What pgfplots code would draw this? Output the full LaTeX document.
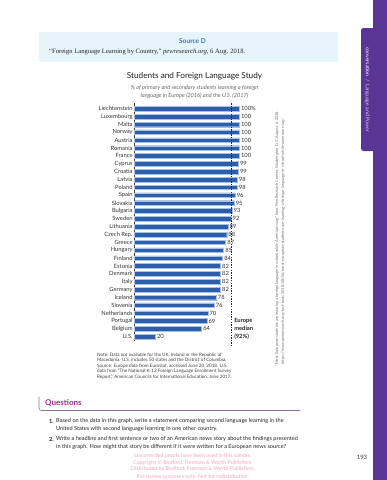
\documentclass[border=0pt]{standalone}
\usepackage{pgfplots}
\pgfplotsset{compat=1.18}
\usepackage{fontspec}
\setmainfont{Lato}
\newfontfamily\seriffont{Liberation Serif}
\definecolor{barblue}{HTML}{2E5EAA}
\definecolor{baredge}{HTML}{A3C0E6}
\definecolor{srcbox}{HTML}{E6F4FB}
\definecolor{srcblue}{HTML}{3A72B8}
\definecolor{band}{HTML}{5A3595}
\definecolor{tabtext}{HTML}{D5CBEA}
\definecolor{qpurple}{HTML}{A02F82}
\definecolor{qline}{HTML}{8C6FA3}
\definecolor{pinkwm}{HTML}{F2A3C3}
\begin{document}
\begin{tikzpicture}
\useasboundingbox (0,0) rectangle (387pt,-480pt);
\fill[white] (0,0) rectangle (387pt,-480pt);
% right band and tab
\fill[band] (373pt,0) rectangle (387pt,-480pt);
\fill[band, rounded corners=2.5pt] (361pt,-28pt) rectangle (376pt,-151pt);
\node[rotate=-90, text=tabtext, font=\fontsize{5.2}{6}\selectfont, inner sep=0] at (367.3pt,-89.5pt) {\textbf{conversation} \ / \ Language and Power};
% source box
\fill[srcbox] (38.7pt,-32pt) rectangle (337.7pt,-62pt);
\node[font=\bfseries\fontsize{6.6}{7}\selectfont, text=srcblue, inner sep=0] at (192.5pt,-40.7pt) {Source D};
\node[font=\seriffont\fontsize{6.6}{7}\selectfont, anchor=west, inner sep=0, text=black!85] at (49pt,-51.7pt) {“Foreign Language Learning by Country,” \textit{pewresearch.org}, 6 Aug. 2018.};
% titles
\node[font=\fontsize{8.2}{9}\selectfont, text=black!88, inner sep=0] at (194.5pt,-76.3pt) {Students and Foreign Language Study};
\node[font=\itshape\fontsize{5.6}{7.8}\selectfont, text=black!60, align=center, inner sep=0] at (194.5pt,-92.2pt) {\% of primary and secondary students learning a foreign\\language in Europe (2016) and the U.S. (2017)};
% chart
\begin{axis}[
  at={(134.3pt,-103.2pt)}, anchor=north west,
  scale only axis, width=105pt, height=238.2pt,
  xmin=0, xmax=100, ymin=-0.7, ymax=29.6, y dir=reverse,
  xbar, bar width=4.6pt,
  axis x line=none, axis y line*=left,
  axis line style={-, black!75, line width=0.6pt},
  ytick={0,...,29},
  yticklabels={Liechtenstein,Luxembourg,Malta,Norway,Austria,Romania,France,Cyprus,Croatia,Latvia,Poland,Spain,Slovakia,Bulgaria,Sweden,Lithuania,Czech Rep.,Greece,Hungary,Finland,Estonia,Denmark,Italy,Germany,Iceland,Slovenia,Netherlands,Portugal,Belgium,U.S.},
  major tick length=0,
  yticklabel style={font=\fontsize{5.8}{6}\selectfont, text=black!80, inner sep=1.5pt},
  nodes near coords, point meta=explicit symbolic,
  nodes near coords align={horizontal},
  every node near coord/.append style={font=\fontsize{5.8}{6}\selectfont, text=black!80, anchor=west, inner sep=1.6pt},
  clip=false,
]
\addplot[fill=barblue, draw=baredge, line width=0.35pt] coordinates {
(100,0) [100\%] (100,1) [100] (100,2) [100] (100,3) [100] (100,4) [100]
(100,5) [100] (100,6) [100] (99,7) [99] (99,8) [99] (98,9) [98]
(98,10) [98] (96,11) [96] (95,12) [95] (93,13) [93] (92,14) [92]
(89,15) [89] (88,16) [88] (87,17) [87] (85,18) [85] (84,19) [84]
(82,20) [82] (82,21) [82] (82,22) [82] (82,23) [82] (78,24) [78]
(76,25) [76] (70,26) [70] (69,27) [69] (64,28) [64] (20,29) [20]
};
\draw[black!85, line width=0.6pt, dash pattern=on 1.4pt off 1.2pt] (axis cs:92,-0.7) -- (axis cs:92,30.1);
\node[anchor=west, align=left, inner sep=0, font=\bfseries\fontsize{5.8}{7.86}\selectfont, text=black!85] at (axis cs:95,28) {Europe\\median\\(92\%)};
\end{axis}
% rotated credit
\node[rotate=90, anchor=east, inner sep=0, font=\fontsize{3.9}{4}\selectfont, text=black!55] at (277pt,-110.7pt) {“Most European students are learning a foreign language in school while Americans lag” from Pew Research Center, Washington, D.C. August 6, 2018.};
\node[rotate=90, anchor=east, inner sep=0, font=\fontsize{3.9}{4}\selectfont, text=black!55] at (283pt,-119pt) {https://www.pewresearch.org/fact-tank/2018/08/06/most-european-students-are-learning-a-foreign-language-in-school-while-americans-lag/};
% note
\node[anchor=north west, align=left, inner sep=0, font=\fontsize{4.6}{5.4}\selectfont, text=black!75] at (97pt,-353pt) {Note: Data not available for the UK, Ireland or the Republic of\\Macedonia. U.S. includes 50 states and the District of Columbia.\\Source: Europe data from Eurostat, accessed June 20, 2018. U.S.\\data from “The National K-12 Foreign Language Enrollment Survey\\Report,” American Councils for International Education, June 2017.};
% questions
\draw[qline, line width=0.6pt, rounded corners=2.5pt] (39pt,-396.5pt) -- (39pt,-410.5pt) -- (300pt,-410.5pt);
\node[anchor=west, inner sep=0, font=\bfseries\fontsize{8}{9}\selectfont, text=qpurple] at (45pt,-403.5pt) {Questions};
\begin{scope}[every node/.style={anchor=west, inner sep=0, font=\fontsize{5.6}{6}\selectfont, text=black!85}]
\node at (49pt,-421pt) {\textbf{1.}};
\node at (56pt,-421pt) {Based on the data in this graph, write a statement comparing second language learning in the};
\node at (56pt,-429pt) {United States with second language learning in one other country.};
\node at (49pt,-439pt) {\textbf{2.}};
\node at (56pt,-439pt) {Write a headline and first sentence or two of an American news story about the findings presented};
\node at (56pt,-447pt) {in this graph. How might that story be different if it were written for a European news source?};
\end{scope}
% watermark
\begin{scope}[every node/.style={inner sep=0, font=\fontsize{5.3}{6}\selectfont, text=pinkwm}]
\node at (193pt,-456pt) {Uncorrected proofs have been used in this sample.};
\node at (193pt,-462.7pt) {Copyright © Bedford, Freeman \& Worth Publishers.};
\node at (193pt,-469.3pt) {Distributed by Bedford, Freeman \& Worth Publishers.};
\node at (193pt,-476.7pt) {For review purposes only. Not for redistribution.};
\end{scope}
\node[inner sep=0, font=\fontsize{6}{7}\selectfont, text=black!80] at (362pt,-457pt) {193};
\end{tikzpicture}
\end{document}
